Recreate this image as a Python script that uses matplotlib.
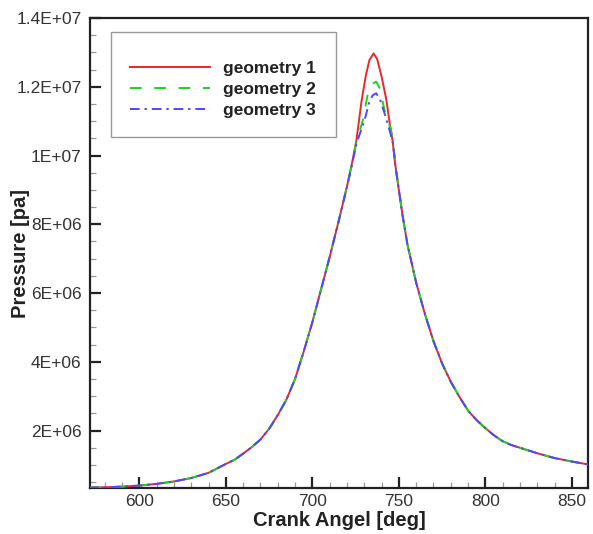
import matplotlib
matplotlib.use("Agg")
import matplotlib.pyplot as plt
from matplotlib.patches import Rectangle
from matplotlib.ticker import FixedLocator, MultipleLocator, FixedFormatter

# ---- data ----
angle_1 = [571, 580, 590, 600, 610, 620, 630, 640, 650, 655, 660, 665, 670, 675, 680,
           685, 690, 695, 700, 705, 710, 715, 720, 723, 725.5, 726.5, 728.5, 731, 733,
           735.4, 737.5, 740, 742.8, 744.7, 746.3, 748, 750, 752, 755, 760, 765, 770,
           775, 780, 785, 790, 795, 800, 805, 810, 815, 820, 825, 830, 840, 850, 860]
pressure_1 = [0.34e6, 0.35e6, 0.37e6, 0.40e6, 0.45e6, 0.52e6, 0.62e6, 0.77e6, 1.03e6,
              1.15e6, 1.33e6, 1.52e6, 1.74e6, 2.05e6, 2.45e6, 2.90e6, 3.50e6, 4.30e6,
              5.15e6, 6.10e6, 7.05e6, 8.05e6, 9.10e6, 9.80e6, 10.45e6, 10.84e6, 11.61e6,
              12.35e6, 12.78e6, 12.97e6, 12.80e6, 12.30e6, 11.61e6, 10.94e6, 10.45e6,
              9.70e6, 9.00e6, 8.30e6, 7.40e6, 6.30e6, 5.40e6, 4.60e6, 3.95e6, 3.42e6,
              2.98e6, 2.58e6, 2.30e6, 2.07e6, 1.86e6, 1.69e6, 1.58e6, 1.50e6, 1.42e6,
              1.34e6, 1.20e6, 1.10e6, 1.01e6]

angle_2 = [571, 580, 590, 600, 610, 620, 630, 640, 650, 655, 660, 665, 670, 675, 680,
           685, 690, 695, 700, 705, 710, 715, 720, 723, 725.5, 729.2, 732.1, 734.5,
           736.9, 739, 741.7, 745.5, 746.6, 748, 750, 752, 755, 760, 765, 770,
           775, 780, 785, 790, 795, 800, 805, 810, 815, 820, 825, 830, 840, 850, 860]
pressure_2 = [0.34e6, 0.35e6, 0.37e6, 0.40e6, 0.45e6, 0.52e6, 0.62e6, 0.77e6, 1.03e6,
              1.15e6, 1.33e6, 1.52e6, 1.74e6, 2.05e6, 2.45e6, 2.90e6, 3.50e6, 4.30e6,
              5.15e6, 6.10e6, 7.05e6, 8.05e6, 9.10e6, 9.78e6, 10.40e6, 11.03e6, 11.81e6,
              12.08e6, 12.15e6, 11.95e6, 11.32e6, 10.74e6, 10.40e6, 9.70e6, 9.00e6,
              8.30e6, 7.40e6, 6.30e6, 5.40e6, 4.60e6, 3.95e6, 3.42e6, 2.98e6, 2.58e6,
              2.30e6, 2.07e6, 1.86e6, 1.69e6, 1.58e6, 1.50e6, 1.42e6, 1.34e6, 1.20e6,
              1.10e6, 1.01e6]

angle_3 = [571, 580, 590, 600, 610, 620, 630, 640, 650, 655, 660, 665, 670, 675, 680,
           685, 690, 695, 700, 705, 710, 715, 720, 723, 725.5, 730.2, 732.7, 734.8,
           736.9, 739, 741.7, 744.6, 746.6, 748, 750, 752, 755, 760, 765, 770,
           775, 780, 785, 790, 795, 800, 805, 810, 815, 820, 825, 830, 840, 850, 860]
pressure_3 = [0.34e6, 0.35e6, 0.37e6, 0.40e6, 0.45e6, 0.52e6, 0.62e6, 0.77e6, 1.03e6,
              1.15e6, 1.33e6, 1.52e6, 1.74e6, 2.05e6, 2.45e6, 2.90e6, 3.50e6, 4.30e6,
              5.15e6, 6.10e6, 7.05e6, 8.05e6, 9.08e6, 9.75e6, 10.35e6, 11.03e6, 11.52e6,
              11.75e6, 11.81e6, 11.65e6, 11.23e6, 10.74e6, 10.35e6, 9.70e6, 9.00e6,
              8.30e6, 7.40e6, 6.30e6, 5.40e6, 4.60e6, 3.95e6, 3.42e6, 2.98e6, 2.58e6,
              2.30e6, 2.07e6, 1.86e6, 1.69e6, 1.58e6, 1.50e6, 1.42e6, 1.34e6, 1.20e6,
              1.10e6, 1.01e6]

series_labels = ["geometry 1", "geometry 2", "geometry 3"]
x_ticks = [600, 650, 700, 750, 800, 850]
y_ticks = [2e6, 4e6, 6e6, 8e6, 1e7, 1.2e7, 1.4e7]
y_tick_labels = ["2E+06", "4E+06", "6E+06", "8E+06", "1E+07", "1.2E+07", "1.4E+07"]

plt.rcParams['font.family'] = ['Liberation Sans', 'DejaVu Sans']

fig = plt.figure(figsize=(5.93, 5.34), dpi=100)
ax = fig.add_axes([90/593, 1-488/534, 498/593, 470/534])

ax.plot(angle_1, pressure_1, color='#e8282c', lw=1.4, ls='-', label=series_labels[0], zorder=3)
ax.plot(angle_2, pressure_2, color='#1ed21e', lw=1.4, ls=(0, (6, 6.5)), label=series_labels[1], zorder=4)
ax.plot(angle_3, pressure_3, color='#4a4aff', lw=1.4, ls=(0, (5, 2.5, 1.2, 2.5)), label=series_labels[2], zorder=5)

ax.set_xlim(571.5, 859.3)
ax.set_ylim(3.3e5, 1.4e7)

ax.xaxis.set_major_locator(FixedLocator(x_ticks))
ax.xaxis.set_minor_locator(MultipleLocator(10))
ax.yaxis.set_major_locator(FixedLocator(y_ticks))
ax.yaxis.set_major_formatter(FixedFormatter(y_tick_labels))
ax.yaxis.set_minor_locator(MultipleLocator(5e5))

ax.tick_params(which='major', direction='in', length=8, width=1.6, color='#222222',
               labelsize=12.5, labelcolor='#333333')
ax.tick_params(axis='y', which='major', pad=6)
ax.tick_params(axis='x', which='major', pad=4)
ax.tick_params(which='minor', direction='in', length=4.5, width=0.9, color='#999999')
for s in ax.spines.values():
    s.set_linewidth(1.6)
    s.set_color('#222222')

ax.set_xlabel("Crank Angel [deg]", fontsize=14.5, fontweight='bold', color='#222222', labelpad=2)
ax.set_ylabel("Pressure [pa]", fontsize=14.5, fontweight='bold', color='#222222')
ax.yaxis.set_label_coords(-0.121, 0.5)

# legend box (frame) and entries
ax.add_patch(Rectangle((21/498, 351/470), 225/498, 105/470, transform=ax.transAxes,
                       facecolor='white', edgecolor='#999999', lw=1.0, zorder=6))
leg = ax.legend(loc='upper left', bbox_to_anchor=(40/498, 427/470),
                prop={'weight': 'bold', 'size': 12.5}, handlelength=4.6, handletextpad=0.75,
                labelspacing=0.33, borderpad=0, borderaxespad=0, frameon=False)
leg.set_zorder(7)
for t in leg.get_texts():
    t.set_color('#222222')

fig.savefig("out.png", dpi=100)
